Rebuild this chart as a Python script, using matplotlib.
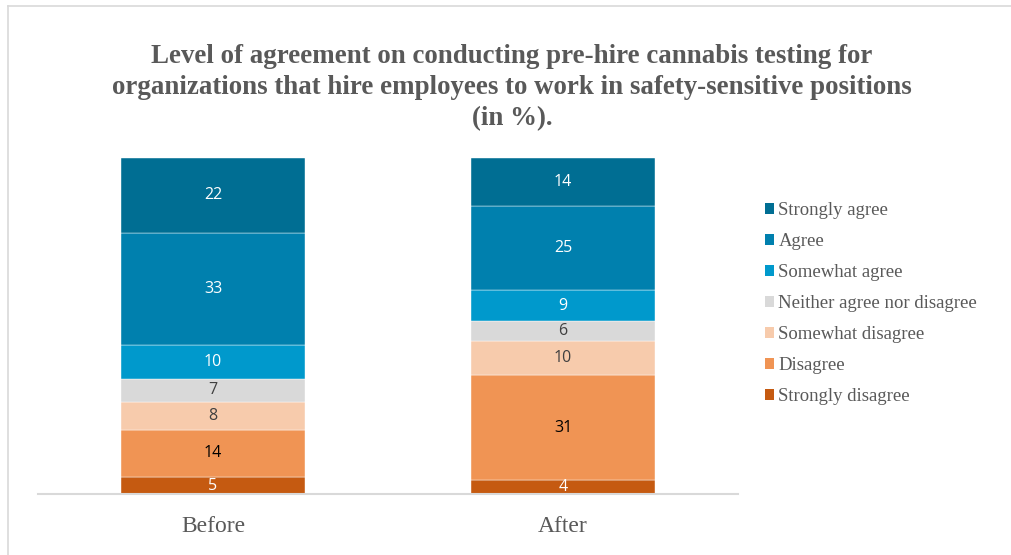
import matplotlib
matplotlib.use("Agg")
import matplotlib.pyplot as plt
from matplotlib.patches import Patch
from matplotlib.lines import Line2D

# Survey responses (in %)
periods = ["Before", "After"]
levels = ["Strongly disagree", "Disagree", "Somewhat disagree",
          "Neither agree nor disagree", "Somewhat agree", "Agree", "Strongly agree"]
strongly_disagree = [5, 4]
disagree = [14, 31]
somewhat_disagree = [8, 10]
neither = [7, 6]
somewhat_agree = [10, 9]
agree = [33, 25]
strongly_agree = [22, 14]

series = [strongly_disagree, disagree, somewhat_disagree, neither,
          somewhat_agree, agree, strongly_agree]
colors = ["#C55A11", "#F09454", "#F7CBAC", "#D9D9D9", "#0099CC", "#0080AE", "#006E93"]
label_colors = ["white", "black", "#404040", "#404040", "white", "white", "white"]

W, H = 1011, 555
fig = plt.figure(figsize=(W / 100, H / 100), dpi=100)
fig.patch.set_facecolor("white")

# Frame lines around the chart area
fig.add_artist(Line2D([7.5 / W, 7.5 / W], [0, 1 - 5.5 / H], color="#D9D9D9", lw=1.2))
fig.add_artist(Line2D([7.5 / W, 1], [1 - 5.5 / H, 1 - 5.5 / H], color="#D9D9D9", lw=1.2))

ax_left, ax_right = 38, 738
ax_top, ax_bottom = 158, 494
ax = fig.add_axes([ax_left / W, 1 - ax_bottom / H,
                   (ax_right - ax_left) / W, (ax_bottom - ax_top) / H])

x = list(range(len(periods)))
bottom = [0] * len(periods)
for vals, col, lc in zip(series, colors, label_colors):
    ax.bar(x, vals, bottom=bottom, width=0.526, color=col,
           edgecolor="white", linewidth=0.3)
    for xi, v, b in zip(x, vals, bottom):
        ax.text(xi, b + v / 2, str(v), ha="center", va="center",
                fontsize=11.5, color=lc, family="Open Sans")
    bottom = [b + v for b, v in zip(bottom, vals)]

ax.set_xlim(-0.5, 1.5)
ax.set_ylim(0, 99)
ax.set_yticks([])
for s in ["top", "right", "left"]:
    ax.spines[s].set_visible(False)
ax.spines["bottom"].set_color("#D9D9D9")
ax.spines["bottom"].set_linewidth(1.5)
ax.set_xticks(x)
ax.set_xticklabels(periods, family="Liberation Serif", fontsize=17, color="#595959")
ax.tick_params(axis="x", length=0, pad=16)

fig.text(512 / W, 1 - 87.5 / H,
         "Level of agreement on conducting pre-hire cannabis testing for\n"
         "organizations that hire employees to work in safety-sensitive positions\n"
         "(in %).",
         ha="center", va="center", family="Liberation Serif", fontweight="bold",
         fontsize=19.4, color="#595959", linespacing=1.3)

handles = [Patch(facecolor=c, edgecolor="none") for c in colors[::-1]]
leg = fig.legend(handles, levels[::-1], loc="upper left",
                 bbox_to_anchor=(765 / W, 1 - 202 / H), frameon=False,
                 prop={"family": "Liberation Serif", "size": 13.5},
                 handlelength=0.5, handleheight=0.5, handletextpad=0.22,
                 labelspacing=0.75, borderpad=0, borderaxespad=0)
for t in leg.get_texts():
    t.set_color("#595959")

fig.savefig("out.png", dpi=100, facecolor="white")
